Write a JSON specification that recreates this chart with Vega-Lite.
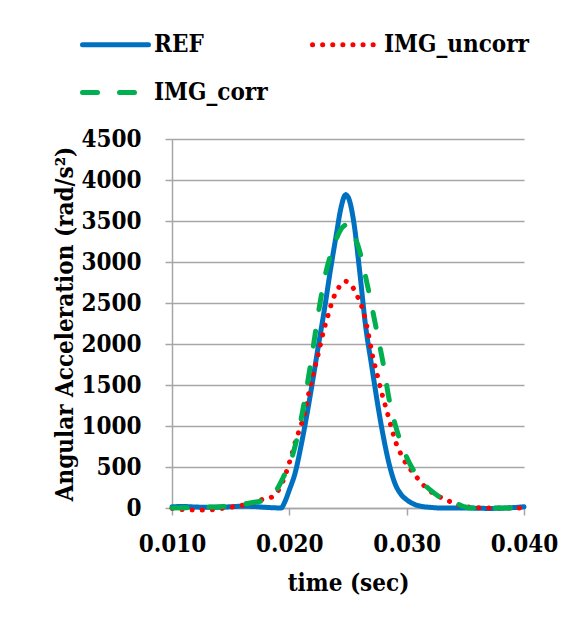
{
  "$schema": "https://vega.github.io/schema/vega-lite/v6.json",
  "autosize": {"type": "none"},
  "padding": {"left": 172, "top": 139, "right": 60, "bottom": 120},
  "width": 352,
  "height": 369,
  "background": "white",
  "config": {
    "view": {"stroke": null},
    "font": "'DejaVu Serif Condensed', 'DejaVu Serif', serif",
    "axis": {
      "labelFont": "'DejaVu Serif Condensed', 'DejaVu Serif', serif",
      "titleFont": "'DejaVu Serif Condensed', 'DejaVu Serif', serif",
      "labelFontSize": 24,
      "titleFontSize": 24,
      "labelFontWeight": "bold",
      "titleFontWeight": "bold",
      "labelColor": "#000000",
      "titleColor": "#000000",
      "domainColor": "#A6A6A6",
      "tickColor": "#A6A6A6",
      "gridColor": "#A6A6A6",
      "domainWidth": 1.5,
      "tickWidth": 1.5,
      "gridWidth": 1.5,
      "tickSize": 7
    },
    "legend": {
      "labelFont": "'DejaVu Serif Condensed', 'DejaVu Serif', serif",
      "labelFontSize": 24,
      "labelFontWeight": "bold",
      "labelColor": "#000000",
      "symbolType": "stroke",
      "symbolSize": 4356,
      "symbolStrokeWidth": 5,
      "labelOffset": 3,
      "columnPadding": 34,
      "rowPadding": 0,
      "labelLimit": 300
    }
  },
  "data": {
    "values": [
      {"t": 0.0100, "v": 15, "s": "REF"},
      {"t": 0.0110, "v": 18, "s": "REF"},
      {"t": 0.0120, "v": 12, "s": "REF"},
      {"t": 0.0130, "v": 8, "s": "REF"},
      {"t": 0.0140, "v": 10, "s": "REF"},
      {"t": 0.0150, "v": 15, "s": "REF"},
      {"t": 0.0160, "v": 22, "s": "REF"},
      {"t": 0.0170, "v": 18, "s": "REF"},
      {"t": 0.0180, "v": 8, "s": "REF"},
      {"t": 0.0188, "v": 2, "s": "REF"},
      {"t": 0.0193, "v": 0, "s": "REF"},
      {"t": 0.0196, "v": 70, "s": "REF"},
      {"t": 0.0200, "v": 220, "s": "REF"},
      {"t": 0.0205, "v": 430, "s": "REF"},
      {"t": 0.0210, "v": 760, "s": "REF"},
      {"t": 0.0215, "v": 1140, "s": "REF"},
      {"t": 0.0220, "v": 1560, "s": "REF"},
      {"t": 0.0225, "v": 2000, "s": "REF"},
      {"t": 0.0230, "v": 2430, "s": "REF"},
      {"t": 0.0235, "v": 2900, "s": "REF"},
      {"t": 0.0240, "v": 3330, "s": "REF"},
      {"t": 0.0244, "v": 3660, "s": "REF"},
      {"t": 0.0248, "v": 3820, "s": "REF"},
      {"t": 0.0251, "v": 3760, "s": "REF"},
      {"t": 0.0255, "v": 3480, "s": "REF"},
      {"t": 0.0260, "v": 2880, "s": "REF"},
      {"t": 0.0265, "v": 2220, "s": "REF"},
      {"t": 0.0270, "v": 1750, "s": "REF"},
      {"t": 0.0275, "v": 1290, "s": "REF"},
      {"t": 0.0280, "v": 880, "s": "REF"},
      {"t": 0.0285, "v": 540, "s": "REF"},
      {"t": 0.0290, "v": 300, "s": "REF"},
      {"t": 0.0295, "v": 170, "s": "REF"},
      {"t": 0.0300, "v": 100, "s": "REF"},
      {"t": 0.0305, "v": 55, "s": "REF"},
      {"t": 0.0310, "v": 28, "s": "REF"},
      {"t": 0.0320, "v": 8, "s": "REF"},
      {"t": 0.0330, "v": 0, "s": "REF"},
      {"t": 0.0350, "v": 0, "s": "REF"},
      {"t": 0.0370, "v": -5, "s": "REF"},
      {"t": 0.0385, "v": 0, "s": "REF"},
      {"t": 0.0400, "v": 15, "s": "REF"},

      {"t": 0.0100, "v": -5, "s": "IMG_uncorr"},
      {"t": 0.0110, "v": -20, "s": "IMG_uncorr"},
      {"t": 0.0120, "v": -25, "s": "IMG_uncorr"},
      {"t": 0.0130, "v": -25, "s": "IMG_uncorr"},
      {"t": 0.0140, "v": -10, "s": "IMG_uncorr"},
      {"t": 0.0150, "v": 10, "s": "IMG_uncorr"},
      {"t": 0.0158, "v": 30, "s": "IMG_uncorr"},
      {"t": 0.0166, "v": 50, "s": "IMG_uncorr"},
      {"t": 0.0176, "v": 100, "s": "IMG_uncorr"},
      {"t": 0.0186, "v": 140, "s": "IMG_uncorr"},
      {"t": 0.0192, "v": 250, "s": "IMG_uncorr"},
      {"t": 0.0197, "v": 420, "s": "IMG_uncorr"},
      {"t": 0.0201, "v": 600, "s": "IMG_uncorr"},
      {"t": 0.0205, "v": 800, "s": "IMG_uncorr"},
      {"t": 0.0209, "v": 970, "s": "IMG_uncorr"},
      {"t": 0.0213, "v": 1150, "s": "IMG_uncorr"},
      {"t": 0.0217, "v": 1430, "s": "IMG_uncorr"},
      {"t": 0.0221, "v": 1670, "s": "IMG_uncorr"},
      {"t": 0.0225, "v": 1900, "s": "IMG_uncorr"},
      {"t": 0.0229, "v": 2150, "s": "IMG_uncorr"},
      {"t": 0.0233, "v": 2350, "s": "IMG_uncorr"},
      {"t": 0.0237, "v": 2540, "s": "IMG_uncorr"},
      {"t": 0.0241, "v": 2660, "s": "IMG_uncorr"},
      {"t": 0.0245, "v": 2745, "s": "IMG_uncorr"},
      {"t": 0.0248, "v": 2765, "s": "IMG_uncorr"},
      {"t": 0.0251, "v": 2740, "s": "IMG_uncorr"},
      {"t": 0.0255, "v": 2670, "s": "IMG_uncorr"},
      {"t": 0.0259, "v": 2550, "s": "IMG_uncorr"},
      {"t": 0.0263, "v": 2400, "s": "IMG_uncorr"},
      {"t": 0.0267, "v": 2150, "s": "IMG_uncorr"},
      {"t": 0.0271, "v": 1850, "s": "IMG_uncorr"},
      {"t": 0.0275, "v": 1620, "s": "IMG_uncorr"},
      {"t": 0.0279, "v": 1390, "s": "IMG_uncorr"},
      {"t": 0.0283, "v": 1190, "s": "IMG_uncorr"},
      {"t": 0.0287, "v": 980, "s": "IMG_uncorr"},
      {"t": 0.0291, "v": 790, "s": "IMG_uncorr"},
      {"t": 0.0295, "v": 660, "s": "IMG_uncorr"},
      {"t": 0.0300, "v": 530, "s": "IMG_uncorr"},
      {"t": 0.0305, "v": 440, "s": "IMG_uncorr"},
      {"t": 0.0310, "v": 350, "s": "IMG_uncorr"},
      {"t": 0.0317, "v": 240, "s": "IMG_uncorr"},
      {"t": 0.0325, "v": 160, "s": "IMG_uncorr"},
      {"t": 0.0334, "v": 98, "s": "IMG_uncorr"},
      {"t": 0.0344, "v": 37, "s": "IMG_uncorr"},
      {"t": 0.0355, "v": 10, "s": "IMG_uncorr"},
      {"t": 0.0370, "v": 0, "s": "IMG_uncorr"},
      {"t": 0.0390, "v": 0, "s": "IMG_uncorr"},
      {"t": 0.0400, "v": 0, "s": "IMG_uncorr"},

      {"t": 0.0100, "v": 0, "s": "IMG_corr"},
      {"t": 0.0110, "v": 3, "s": "IMG_corr"},
      {"t": 0.0120, "v": 5, "s": "IMG_corr"},
      {"t": 0.0130, "v": 10, "s": "IMG_corr"},
      {"t": 0.0140, "v": 15, "s": "IMG_corr"},
      {"t": 0.0150, "v": 25, "s": "IMG_corr"},
      {"t": 0.0160, "v": 45, "s": "IMG_corr"},
      {"t": 0.0170, "v": 70, "s": "IMG_corr"},
      {"t": 0.0180, "v": 100, "s": "IMG_corr"},
      {"t": 0.0185, "v": 140, "s": "IMG_corr"},
      {"t": 0.0190, "v": 240, "s": "IMG_corr"},
      {"t": 0.0195, "v": 380, "s": "IMG_corr"},
      {"t": 0.0200, "v": 520, "s": "IMG_corr"},
      {"t": 0.0205, "v": 760, "s": "IMG_corr"},
      {"t": 0.0210, "v": 1080, "s": "IMG_corr"},
      {"t": 0.0215, "v": 1480, "s": "IMG_corr"},
      {"t": 0.0220, "v": 1930, "s": "IMG_corr"},
      {"t": 0.0225, "v": 2400, "s": "IMG_corr"},
      {"t": 0.0230, "v": 2800, "s": "IMG_corr"},
      {"t": 0.0235, "v": 3080, "s": "IMG_corr"},
      {"t": 0.0240, "v": 3280, "s": "IMG_corr"},
      {"t": 0.0245, "v": 3420, "s": "IMG_corr"},
      {"t": 0.0250, "v": 3460, "s": "IMG_corr"},
      {"t": 0.0255, "v": 3330, "s": "IMG_corr"},
      {"t": 0.0260, "v": 3130, "s": "IMG_corr"},
      {"t": 0.0265, "v": 2820, "s": "IMG_corr"},
      {"t": 0.0270, "v": 2480, "s": "IMG_corr"},
      {"t": 0.0275, "v": 2120, "s": "IMG_corr"},
      {"t": 0.0280, "v": 1760, "s": "IMG_corr"},
      {"t": 0.0285, "v": 1330, "s": "IMG_corr"},
      {"t": 0.0290, "v": 1030, "s": "IMG_corr"},
      {"t": 0.0295, "v": 800, "s": "IMG_corr"},
      {"t": 0.0300, "v": 620, "s": "IMG_corr"},
      {"t": 0.0305, "v": 480, "s": "IMG_corr"},
      {"t": 0.0310, "v": 370, "s": "IMG_corr"},
      {"t": 0.0320, "v": 220, "s": "IMG_corr"},
      {"t": 0.0330, "v": 120, "s": "IMG_corr"},
      {"t": 0.0340, "v": 70, "s": "IMG_corr"},
      {"t": 0.0345, "v": 40, "s": "IMG_corr"},
      {"t": 0.0350, "v": 12, "s": "IMG_corr"},
      {"t": 0.0355, "v": 0, "s": "IMG_corr"},
      {"t": 0.0370, "v": 0, "s": "IMG_corr"},
      {"t": 0.0400, "v": 0, "s": "IMG_corr"}
    ]
  },
  "mark": {"type": "line", "strokeWidth": 5, "strokeCap": "round", "interpolate": "monotone", "clip": false},
  "encoding": {
    "x": {
      "field": "t",
      "type": "quantitative",
      "scale": {"domain": [0.01, 0.04], "nice": false, "zero": false},
      "axis": {
        "title": "time (sec)",
        "values": [0.01, 0.02, 0.03, 0.04],
        "format": ".3f",
        "grid": false,
        "labelFlush": false,
        "labelOverlap": false,
        "labelPadding": 17,
        "titlePadding": 15
      }
    },
    "y": {
      "field": "v",
      "type": "quantitative",
      "scale": {"domain": [0, 4500], "nice": false},
      "axis": {
        "title": "Angular Acceleration (rad/s²)",
        "values": [0, 500, 1000, 1500, 2000, 2500, 3000, 3500, 4000, 4500],
        "format": "d",
        "grid": true,
        "labelPadding": 24,
        "titlePadding": 3
      }
    },
    "color": {
      "field": "s",
      "type": "nominal",
      "scale": {"domain": ["REF", "IMG_uncorr", "IMG_corr"], "range": ["#0070C0", "#FF0000", "#00B050"]},
      "legend": {
        "title": null,
        "orient": "none",
        "legendX": -92,
        "legendY": -130,
        "columns": 2,
        "direction": "horizontal",
        "encode": {"symbols": {"update": {"strokeCap": {"value": "round"}}}}
      }
    },
    "strokeDash": {
      "field": "s",
      "type": "nominal",
      "scale": {"domain": ["REF", "IMG_uncorr", "IMG_corr"], "range": [[1, 0], [0.1, 10], [15, 22]]},
      "legend": {
        "title": null,
        "orient": "none",
        "legendX": -92,
        "legendY": -130,
        "columns": 2,
        "direction": "horizontal",
        "encode": {"symbols": {"update": {"strokeCap": {"value": "round"}}}}
      }
    }
  }
}
